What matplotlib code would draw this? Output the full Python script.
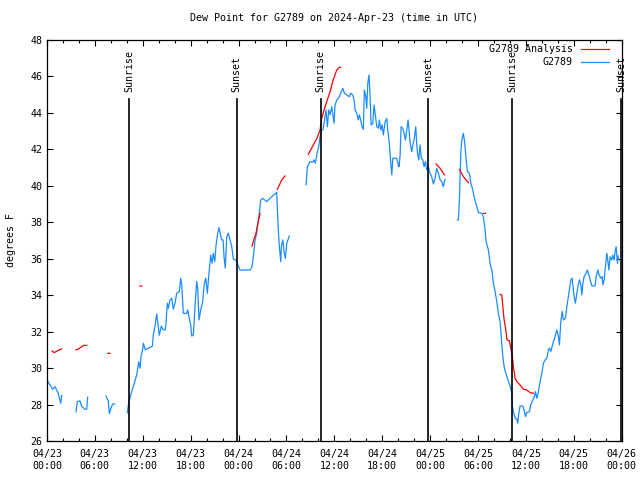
import numpy as np
import matplotlib
matplotlib.use("Agg")
import matplotlib.pyplot as plt

# hours since 2024-04-23 00:00 UTC; NaN marks a gap in the record
OBS_HOURS = [
    0.0, 0.38, 0.71, 1.0, 1.42, 1.72, 1.84, np.nan,
    3.63, 3.80, 4.14, 4.35, 4.76, 4.97, 5.10, np.nan,
    7.39, 7.68, 7.81, 8.02, 8.23, 8.48, np.nan,
    10.06, 10.24, 10.40, 10.61, 10.94, 11.24, 11.49, 11.65, 11.78, 11.99, 12.07, 12.32,
    12.91, 13.20, 13.32, 13.53, 13.75, 13.95, 14.07, 14.32, 14.57, 14.82, 14.91, 15.08,
    15.20, 15.41, 15.63, 15.83, 16.04, 16.25, 16.58, 16.75, 16.88, 17.08, 17.51, 17.63,
    17.83, 18.01, 18.13, 18.33, 18.42, 18.58, 18.76, 18.88, 19.05, 19.26, 19.51, 19.71,
    19.89, 20.09, 20.30, 20.51, 20.68, 20.84, 21.02, 21.18, 21.39, 21.55, 21.89, 22.06,
    22.18, 22.34, 22.52, 22.72, 22.93, 23.15, 23.35, 23.68, 23.85, 24.19, 25.44, 25.69,
    25.85, 26.07, 26.28, 26.35, 26.60, 26.78, 27.03, 27.53, 28.16, 28.78, 28.98, 29.11,
    29.29, 29.36, 29.54, 29.70, 29.86, 30.04, 30.36, np.nan,
    32.46, 32.62, 32.96, 33.30, 33.46, 33.62, 33.87, 34.05, 34.21, 34.42, 34.59, 34.84,
    34.96, 35.13, 35.30, 35.46, 35.68, 35.88, 35.96, 36.09, 36.30, 36.63, 36.80, 37.06,
    37.26, 37.56, 37.88, 38.06, 38.31, 38.47, 38.60, 38.81, 39.01, 39.14, 39.31, 39.47,
    39.64, 39.76, 39.94, 40.06, 40.19, 40.35, 40.48, 40.60, 40.81, 40.98, 41.14, 41.32,
    41.52, 41.64, 41.82, 41.98, 42.14, 42.36, 42.57, 42.69, 42.89, 43.07, 43.20, 43.32,
    43.82, 44.02, 44.11, 44.24, 44.36, 44.57, 44.74, 44.90, 45.08, 45.24, 45.36, 45.49,
    45.70, 45.83, 45.99, 46.20, 46.33, 46.45, 46.58, 46.74, 46.90, 47.08, 47.24, 47.41,
    47.58, 47.78, 47.99, 48.20, 48.41, 48.62, 48.83, 49.04, 49.25, 49.46, 49.66, 49.84, np.nan,
    51.42, 51.54, 51.67, 51.84, 51.97, 52.17, 52.34, 52.51, 52.67, 52.92, 53.10, 53.35,
    53.51, 53.67, 53.85, 54.05, 54.47, 54.67, 54.89, 55.01, 55.30, 55.51, 55.76, 55.93,
    56.14, 56.35, 56.55, 56.77, 56.93, 57.11, 57.27, 57.43, 57.61, 57.81, 58.02, 58.23,
    58.31, 58.43, 58.65, 58.86, 58.98, 59.11, 59.27, 59.61, 59.77, 59.94, 60.11, 60.44,
    60.61, 60.86, 61.06, 61.19, 61.37, 61.57, 61.78, 61.99, 62.19, 62.41, 62.62, 62.82,
    62.94, 63.12, 63.28, 63.45, 63.66, 63.87, 64.07, 64.20, 64.37, 64.54, 64.70, 64.95,
    65.13, 65.29, 65.45, 65.63, 65.79, 65.96, 66.08, 66.20, 66.38, 66.54, 66.71, 66.88,
    67.01, 67.13, 67.29, 67.54, 67.71, 67.88, 68.05, 68.26, 68.67, 68.80, 69.01, 69.17,
    69.39, 69.55, 69.64, 69.80, 69.96, 70.14, 70.30, 70.39, 70.55, 70.76, 70.89, 71.05,
    71.18, 71.30, 71.47, 71.59,
]
OBS_DEWPT = [
    29.35, 29.07, 28.84, 28.98, 28.6, 28.07, 28.5, np.nan,
    27.6, 28.16, 28.2, 27.9, 27.74, 27.74, 28.4, np.nan,
    28.47, 28.2, 27.5, 27.8, 28.03, 28.03, np.nan,
    27.55, 28.1, 28.35, 28.7, 29.17, 29.62, 30.35, 29.99, 30.63, 31.03, 31.36, 31.0,
    31.14, 31.2, 31.82, 32.31, 32.97, 32.27, 31.8, 32.3, 32.1, 32.1, 32.46, 33.56,
    33.28, 33.74, 33.83, 33.23, 33.56, 34.1, 34.2, 34.93, 34.56, 33.0, 33.0, 33.19,
    32.73, 32.37, 31.76, 31.8, 32.4, 33.65, 34.75, 34.38, 32.64, 33.19, 33.65, 34.65,
    34.93, 34.1, 35.24, 36.2, 35.75, 36.3, 35.84, 36.75, 37.4, 37.7, 37.03, 37.03,
    36.11, 35.48, 37.2, 37.4, 37.03, 36.66, 35.97, 35.93, 35.75, 35.38, 35.38, 35.56,
    36.11, 37.03, 37.4, 37.76, 38.49, 39.22, 39.31, 39.13, 39.4, 39.64, 37.58, 36.66,
    35.84, 36.66, 37.03, 36.39, 36.02, 36.84, 37.25, np.nan,
    40.05, 41.05, 41.33, 41.3, 41.42, 41.24, 41.87, 42.15, 42.7, 43.06, 43.1, 43.8,
    44.16, 43.24, 44.16, 43.9, 44.34, 43.7, 43.43, 44.43, 44.7, 44.89, 45.08, 45.35,
    45.08, 44.98, 44.89, 45.08, 44.98, 44.7, 44.16, 43.98, 43.61, 43.89, 43.61, 43.24,
    43.1, 45.26, 44.89, 44.25, 45.62, 46.08, 44.89, 43.34, 43.4, 44.43, 43.89, 43.24,
    43.16, 43.61, 43.06, 43.34, 42.79, 43.52, 43.7, 43.06, 42.33, 41.24, 40.6, 41.51,
    41.51, 41.14, 41.05, 41.69, 43.24, 43.16, 42.88, 42.51, 43.06, 43.61, 43.06, 42.33,
    41.87, 42.24, 42.51, 43.24, 42.24, 41.69, 41.42, 42.24, 41.51, 41.42, 41.05, 41.33,
    40.87, 41.05, 40.69, 40.5, 40.1, 40.41, 40.96, 40.69, 40.32, 40.23, 39.95, 40.35, np.nan,
    38.13, 38.13, 39.22, 41.78, 42.51, 42.88, 42.33, 41.42, 40.78, 40.69, 40.14, 39.77,
    39.4, 39.13, 38.86, 38.53, 38.49, 38.3, 37.58, 36.94, 36.48, 35.75, 35.29, 34.65,
    34.2, 33.65, 33.0, 32.55, 31.54, 30.63, 30.08, 29.8, 29.53, 29.26, 29.02, 28.62,
    27.88, 27.61, 27.25, 27.2, 26.97, 27.52, 27.92, 27.92, 27.7, 27.34, 27.56, 27.61,
    27.98, 28.25, 28.43, 28.71, 28.34, 28.71, 29.26, 29.71, 30.26, 30.45, 30.54, 31.0,
    31.09, 30.91, 31.18, 31.46, 31.73, 32.1, 31.73, 31.27, 32.55, 33.1, 32.64, 32.73,
    33.37, 33.83, 34.29, 34.84, 34.93, 34.2, 33.83, 33.56, 34.1, 34.56, 34.84, 34.56,
    34.01, 34.65, 35.02, 35.2, 35.38, 35.11, 34.84, 34.51, 34.51, 35.02, 35.38, 35.11,
    34.93, 35.02, 34.56, 34.84, 35.56, 36.3, 35.75, 35.38, 36.11, 35.93, 36.2, 35.93,
    36.39, 36.66, 35.75, 36.15,
]

ANL_HOURS = [
    0.63, 0.88, 1.22, 1.54, 1.84, np.nan,
    3.63, 3.97, 4.35, 4.64, 4.97, np.nan,
    7.61, 7.89, np.nan,
    11.65, 11.87, np.nan,
    25.69, 25.94, 26.19, 26.35, 26.69, np.nan,
    28.86, 29.41, 29.82, np.nan,
    32.74, 33.37, 33.87, 34.21, 34.42, 34.71, 35.05, 35.46, 35.88, 36.30, 36.63, 36.80, np.nan,
    48.75, 49.25, 49.79, np.nan,
    51.67, 52.17, 52.79, np.nan,
    54.67, 54.92, np.nan,
    56.77, 56.98, 57.11, 57.27, 57.48, 57.64, 57.93, 58.11, 58.27, 58.43, 58.65, 58.86,
    59.27, 59.69, 60.11, 60.53, 60.94,
]
ANL_DEWPT = [
    30.94, 30.85, 30.92, 31.0, 31.05, np.nan,
    31.0, 31.05, 31.18, 31.25, 31.25, np.nan,
    30.81, 30.81, np.nan,
    34.5, 34.5, np.nan,
    36.7, 37.07, 37.4, 37.76, 38.49, np.nan,
    39.81, 40.32, 40.54, np.nan,
    41.73, 42.24, 42.66, 43.06, 43.7, 44.16, 44.62, 45.16, 45.84, 46.35, 46.5, 46.5, np.nan,
    41.2, 40.96, 40.6, np.nan,
    40.9, 40.5, 40.17, np.nan,
    38.49, 38.49, np.nan,
    34.05, 34.0, 33.37, 32.64, 32.1, 31.54, 31.5, 31.1, 30.72, 30.08, 29.44, 29.26,
    29.07, 28.84, 28.8, 28.65, 28.62,
]

SUN_HOURS = [10.31, 23.77, 34.27, 47.78, 58.30, 71.95]
SUN_LABELS = ["Sunrise", "Sunset", "Sunrise", "Sunset", "Sunrise", "Sunset"]

TICK_HOURS = list(range(0, 73, 6))
TICK_LABELS = ["04/23\n00:00", "04/23\n06:00", "04/23\n12:00", "04/23\n18:00",
               "04/24\n00:00", "04/24\n06:00", "04/24\n12:00", "04/24\n18:00",
               "04/25\n00:00", "04/25\n06:00", "04/25\n12:00", "04/25\n18:00",
               "04/26\n00:00"]

plt.rcParams.update({"font.family": "DejaVu Sans Mono", "font.size": 7.2})
C_OBS = "#1a8cff"; C_ANL = "#ff0000"

fig = plt.figure(figsize=(6.4, 4.8), dpi=100)
ax = fig.add_axes([0.0734, 0.0813, 0.8980, 0.8354])

ax.plot(OBS_HOURS, OBS_DEWPT, color=C_OBS, lw=0.9)
ax.plot(ANL_HOURS, ANL_DEWPT, color=C_ANL, lw=0.9)

for h, lab in zip(SUN_HOURS, SUN_LABELS):
    ax.axvline(h, ymax=0.853, color="black", lw=1.2)
    ax.text(h, 0.870, lab, transform=ax.get_xaxis_transform(), rotation=90,
            ha="center", va="bottom", fontsize=7.2)

ax.set_xlim(0, 72)
ax.set_ylim(26, 48)
ax.set_xticks(TICK_HOURS)
ax.set_xticklabels(TICK_LABELS)
ax.set_xticks(np.arange(0, 73, 2), minor=True)
ax.set_yticks(np.arange(26, 49, 2))
ax.tick_params(which="both", direction="in", top=True, right=True, width=0.8)
ax.tick_params(which="major", length=4)
ax.tick_params(which="minor", length=2)
ax.tick_params(axis="x", pad=6)
for s in ax.spines.values():
    s.set_linewidth(0.9)

ax.set_ylabel("degrees F", labelpad=10)
ax.set_title("Dew Point for G2789 on 2024-Apr-23 (time in UTC)", pad=14, fontsize=7.2)

# gnuplot-style key: right-aligned text, sample line to its right
for y, lab, c in [(0.977, "G2789 Analysis", C_ANL), (0.945, "G2789", C_OBS)]:
    ax.text(0.915, y, lab, transform=ax.transAxes, ha="right", va="center")
    ax.plot([0.929, 0.978], [y, y], transform=ax.transAxes, color=c, lw=0.9)

fig.savefig("out.png", dpi=100)
